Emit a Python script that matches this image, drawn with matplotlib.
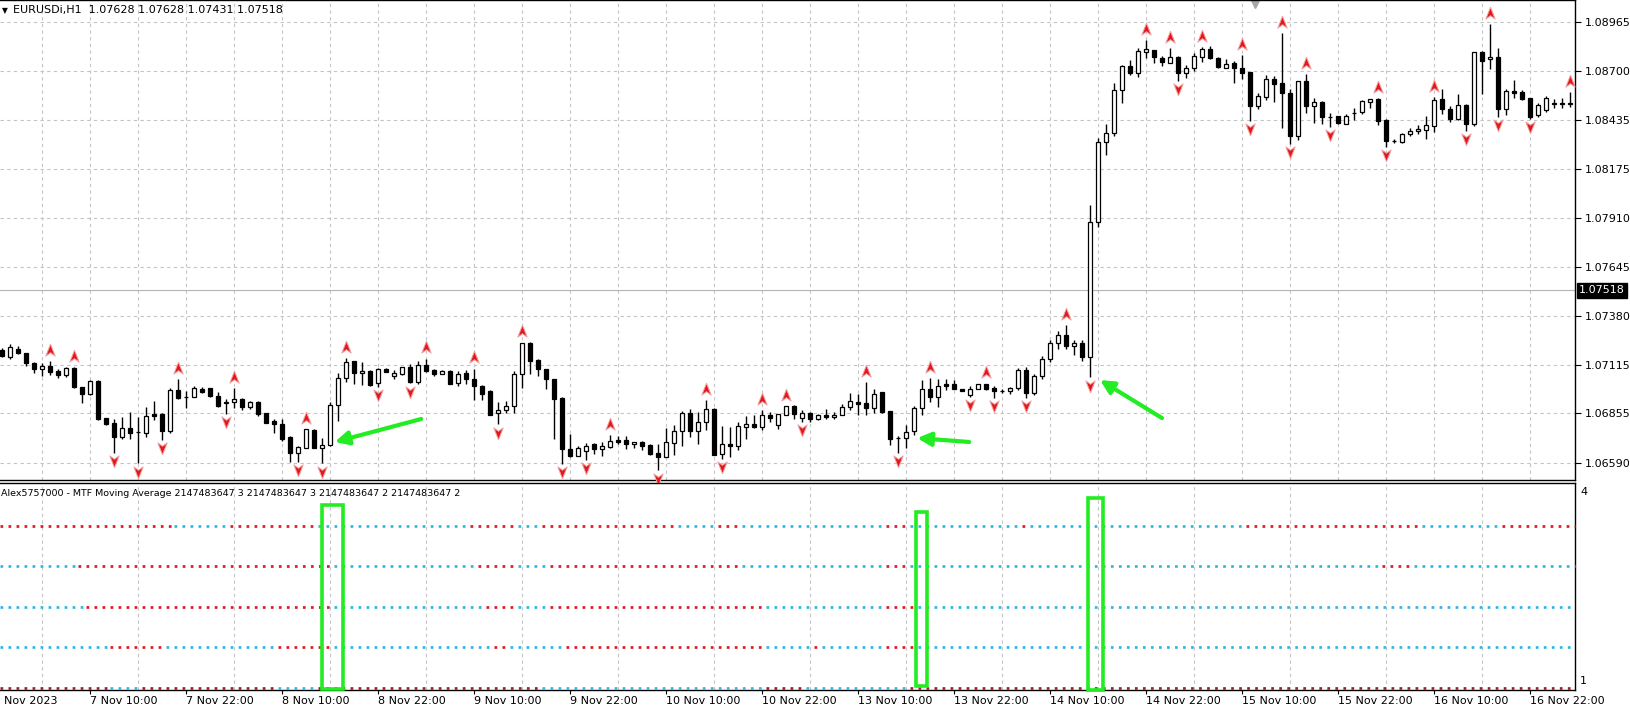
import matplotlib
matplotlib.use("Agg")
import matplotlib.pyplot as plt
import numpy as np
from matplotlib.path import Path
from matplotlib.patches import Rectangle
from matplotlib.transforms import offset_copy, blended_transform_factory

# ---- EURUSD H1 bars (6 Nov 23:00 -> 17 Nov) ----
opens = [
    1.07197, 1.07157, 1.07201, 1.07179, 1.07129, 1.07096, 1.07111, 1.07084, 1.07060, 1.07098,
    1.06995, 1.06959, 1.07030, 1.06828, 1.06801, 1.06729, 1.06779, 1.06753, 1.06752, 1.06850,
    1.06851, 1.06761, 1.06981, 1.06941, 1.06945, 1.06986, 1.06990, 1.06949, 1.06909, 1.06914,
    1.06932, 1.06891, 1.06918, 1.06855, 1.06814, 1.06797, 1.06729, 1.06639, 1.06670, 1.06765,
    1.06671, 1.06684, 1.06900, 1.07044, 1.07138, 1.07071, 1.07084, 1.07017, 1.07093, 1.07058,
    1.07066, 1.07107, 1.07025, 1.07115, 1.07088, 1.07070, 1.07084, 1.07021, 1.07074, 1.07043,
    1.07002, 1.06976, 1.06859, 1.06872, 1.06897, 1.07070, 1.07232, 1.07142, 1.07092, 1.07040,
    1.06939, 1.06665, 1.06627, 1.06652, 1.06692, 1.06663, 1.06674, 1.06714, 1.06714, 1.06692,
    1.06703, 1.06683, 1.06643, 1.06620, 1.06696, 1.06760, 1.06859, 1.06760, 1.06809, 1.06881,
    1.06634, 1.06688, 1.06681, 1.06782, 1.06800, 1.06782, 1.06845, 1.06791, 1.06849, 1.06897,
    1.06832, 1.06859, 1.06827, 1.06849, 1.06836, 1.06849, 1.06890, 1.06915, 1.06912, 1.06886,
    1.06969, 1.06867, 1.06724, 1.06723, 1.06760, 1.06886, 1.06984, 1.06944, 1.07011, 1.07011,
    1.06984, 1.06953, 1.06989, 1.07011, 1.06993, 1.06976, 1.06976, 1.06990, 1.07090, 1.06965,
    1.07055, 1.07150, 1.07234, 1.07280, 1.07220, 1.07234, 1.07160, 1.07885, 1.08319, 1.08368,
    1.08598, 1.08728, 1.08692, 1.08805, 1.08814, 1.08769, 1.08746, 1.08778, 1.08693, 1.08715,
    1.08778, 1.08818, 1.08769, 1.08720, 1.08746, 1.08720, 1.08697, 1.08512, 1.08562, 1.08657,
    1.08634, 1.08580, 1.08350, 1.08647, 1.08515, 1.08535, 1.08454, 1.08458, 1.08418, 1.08474,
    1.08481, 1.08535, 1.08549, 1.08436, 1.08324, 1.08319, 1.08364, 1.08377, 1.08382, 1.08404,
    1.08549, 1.08499, 1.08441, 1.08517, 1.08418, 1.08805, 1.08764, 1.08774, 1.08494, 1.08595,
    1.08587, 1.08553, 1.08463, 1.08490, 1.08525, 1.08528, 1.08525]

highs = [
    1.07206, 1.07229, 1.07219, 1.07183, 1.07132, 1.07125, 1.07136, 1.07095, 1.07107, 1.07107,
    1.06999, 1.07035, 1.07035, 1.06832, 1.06823, 1.06837, 1.06860, 1.06837, 1.06891, 1.06922,
    1.06857, 1.06990, 1.07039, 1.06976, 1.07003, 1.06995, 1.06992, 1.06972, 1.06932, 1.06990,
    1.06940, 1.06922, 1.06922, 1.06857, 1.06824, 1.06823, 1.06733, 1.06679, 1.06772, 1.06769,
    1.06720, 1.06918, 1.07071, 1.07152, 1.07139, 1.07134, 1.07089, 1.07098, 1.07102, 1.07089,
    1.07107, 1.07120, 1.07137, 1.07151, 1.07092, 1.07088, 1.07088, 1.07084, 1.07088, 1.07097,
    1.07007, 1.06980, 1.06917, 1.06922, 1.07083, 1.07237, 1.07241, 1.07146, 1.07097, 1.07043,
    1.06944, 1.06746, 1.06679, 1.06696, 1.06696, 1.06701, 1.06737, 1.06732, 1.06732, 1.06703,
    1.06706, 1.06688, 1.06688, 1.06778, 1.06791, 1.06868, 1.06877, 1.06863, 1.06926, 1.06886,
    1.06786, 1.06782, 1.06809, 1.06840, 1.06849, 1.06872, 1.06863, 1.06854, 1.06897, 1.06901,
    1.06876, 1.06863, 1.06854, 1.06881, 1.06863, 1.06908, 1.06967, 1.06962, 1.07025, 1.06989,
    1.06969, 1.06867, 1.06732, 1.06795, 1.06894, 1.07034, 1.07048, 1.07043, 1.07043, 1.07034,
    1.06984, 1.07002, 1.07012, 1.07016, 1.07002, 1.06989, 1.06995, 1.07100, 1.07105, 1.07070,
    1.07165, 1.07250, 1.07300, 1.07330, 1.07250, 1.07250, 1.07980, 1.08340, 1.08418, 1.08638,
    1.08733, 1.08760, 1.08823, 1.08868, 1.08814, 1.08782, 1.08827, 1.08782, 1.08733, 1.08796,
    1.08832, 1.08836, 1.08778, 1.08764, 1.08756, 1.08787, 1.08697, 1.08580, 1.08679, 1.08674,
    1.08904, 1.08602, 1.08647, 1.08684, 1.08558, 1.08539, 1.08476, 1.08461, 1.08467, 1.08504,
    1.08544, 1.08551, 1.08553, 1.08440, 1.08332, 1.08369, 1.08395, 1.08409, 1.08458, 1.08562,
    1.08602, 1.08512, 1.08576, 1.08522, 1.08805, 1.08810, 1.08954, 1.08823, 1.08602, 1.08652,
    1.08598, 1.08557, 1.08530, 1.08565, 1.08550, 1.08555, 1.08590]

lows = [
    1.07161, 1.07147, 1.07174, 1.07111, 1.07071, 1.07057, 1.07062, 1.07044, 1.07049, 1.06990,
    1.06909, 1.06952, 1.06819, 1.06792, 1.06643, 1.06715, 1.06715, 1.06585, 1.06729, 1.06819,
    1.06711, 1.06751, 1.06931, 1.06882, 1.06941, 1.06967, 1.06945, 1.06887, 1.06851, 1.06882,
    1.06873, 1.06877, 1.06842, 1.06801, 1.06747, 1.06707, 1.06594, 1.06594, 1.06666, 1.06666,
    1.06585, 1.06680, 1.06815, 1.07026, 1.07013, 1.07008, 1.07004, 1.06999, 1.07076, 1.07039,
    1.07062, 1.07017, 1.07016, 1.07079, 1.07059, 1.07066, 1.07012, 1.07003, 1.07016, 1.06926,
    1.06926, 1.06845, 1.06796, 1.06858, 1.06858, 1.06994, 1.07070, 1.07056, 1.06989, 1.06719,
    1.06584, 1.06620, 1.06624, 1.06606, 1.06638, 1.06625, 1.06670, 1.06688, 1.06665, 1.06670,
    1.06656, 1.06629, 1.06548, 1.06620, 1.06629, 1.06679, 1.06728, 1.06692, 1.06764, 1.06629,
    1.06611, 1.06620, 1.06656, 1.06719, 1.06777, 1.06764, 1.06809, 1.06773, 1.06845, 1.06823,
    1.06809, 1.06809, 1.06818, 1.06827, 1.06827, 1.06845, 1.06876, 1.06845, 1.06845, 1.06859,
    1.06859, 1.06687, 1.06642, 1.06670, 1.06737, 1.06845, 1.06917, 1.06890, 1.06980, 1.06984,
    1.06976, 1.06944, 1.06984, 1.06980, 1.06940, 1.06966, 1.06962, 1.06980, 1.06940, 1.06955,
    1.07040, 1.07130, 1.07200, 1.07200, 1.07170, 1.07140, 1.07050, 1.07860, 1.08250, 1.08350,
    1.08530, 1.08679, 1.08670, 1.08769, 1.08746, 1.08728, 1.08742, 1.08648, 1.08665, 1.08702,
    1.08751, 1.08764, 1.08715, 1.08715, 1.08638, 1.08656, 1.08432, 1.08499, 1.08544, 1.08535,
    1.08395, 1.08308, 1.08328, 1.08476, 1.08422, 1.08418, 1.08400, 1.08418, 1.08414, 1.08436,
    1.08472, 1.08504, 1.08409, 1.08292, 1.08314, 1.08314, 1.08350, 1.08364, 1.08332, 1.08373,
    1.08472, 1.08427, 1.08436, 1.08378, 1.08404, 1.08575, 1.08710, 1.08454, 1.08463, 1.08553,
    1.08544, 1.08445, 1.08455, 1.08480, 1.08500, 1.08500, 1.08505]

closes = [
    1.07166, 1.07215, 1.07179, 1.07129, 1.07096, 1.07111, 1.07076, 1.07060, 1.07098, 1.06999,
    1.06959, 1.07028, 1.06826, 1.06797, 1.06729, 1.06779, 1.06752, 1.06753, 1.06842, 1.06841,
    1.06761, 1.06981, 1.06940, 1.06941, 1.06990, 1.06972, 1.06949, 1.06895, 1.06918, 1.06932,
    1.06891, 1.06918, 1.06851, 1.06806, 1.06796, 1.06715, 1.06643, 1.06673, 1.06769, 1.06670,
    1.06684, 1.06900, 1.07044, 1.07134, 1.07071, 1.07084, 1.07008, 1.07094, 1.07080, 1.07071,
    1.07103, 1.07026, 1.07115, 1.07084, 1.07070, 1.07084, 1.07016, 1.07070, 1.07043, 1.07002,
    1.06962, 1.06849, 1.06876, 1.06897, 1.07070, 1.07232, 1.07138, 1.07092, 1.07038, 1.06935,
    1.06665, 1.06624, 1.06670, 1.06678, 1.06663, 1.06678, 1.06706, 1.06701, 1.06688, 1.06703,
    1.06678, 1.06634, 1.06620, 1.06701, 1.06760, 1.06859, 1.06760, 1.06809, 1.06881, 1.06629,
    1.06688, 1.06681, 1.06786, 1.06800, 1.06782, 1.06845, 1.06831, 1.06850, 1.06897, 1.06854,
    1.06859, 1.06827, 1.06849, 1.06836, 1.06849, 1.06890, 1.06921, 1.06908, 1.06886, 1.06962,
    1.06863, 1.06719, 1.06724, 1.06755, 1.06886, 1.06984, 1.06944, 1.07003, 1.07002, 1.06984,
    1.06976, 1.06989, 1.07011, 1.06989, 1.06976, 1.06976, 1.06990, 1.07090, 1.06965, 1.07055,
    1.07150, 1.07234, 1.07280, 1.07220, 1.07234, 1.07160, 1.07885, 1.08320, 1.08369, 1.08598,
    1.08728, 1.08692, 1.08809, 1.08819, 1.08778, 1.08751, 1.08774, 1.08692, 1.08715, 1.08782,
    1.08818, 1.08769, 1.08724, 1.08737, 1.08720, 1.08692, 1.08512, 1.08566, 1.08656, 1.08629,
    1.08584, 1.08350, 1.08647, 1.08512, 1.08533, 1.08454, 1.08454, 1.08422, 1.08461, 1.08476,
    1.08539, 1.08548, 1.08432, 1.08324, 1.08326, 1.08364, 1.08377, 1.08387, 1.08409, 1.08544,
    1.08495, 1.08445, 1.08517, 1.08418, 1.08805, 1.08756, 1.08774, 1.08494, 1.08593, 1.08584,
    1.08549, 1.08454, 1.08517, 1.08555, 1.08528, 1.08525, 1.08530]

# fractal arrows (bar index)
up_fractals = [6, 9, 22, 29, 38, 43, 53, 59, 65, 76, 88, 95, 98, 108, 116, 123, 133,
               143, 146, 150, 155, 160, 163, 172, 179, 186, 196]
down_fractals = [14, 17, 20, 28, 37, 40, 47, 51, 62, 70, 73, 82, 90, 100, 112, 121, 124,
                 128, 136, 147, 156, 161, 166, 173, 183, 187, 191]

price_ticks = [1.06590, 1.06855, 1.07115, 1.07380, 1.07645, 1.07910, 1.08175, 1.08435, 1.08700, 1.08965]
current_price = 1.07518
header = "EURUSDi,H1  1.07628 1.07628 1.07431 1.07518"
ind_title = "Alex5757000 - MTF Moving Average 2147483647 3 2147483647 3 2147483647 2 2147483647 2"

# first label is cut by the window edge in the terminal
time_labels = ["Nov 2023", "7 Nov 10:00", "7 Nov 22:00", "8 Nov 10:00", "8 Nov 22:00",
               "9 Nov 10:00", "9 Nov 22:00", "10 Nov 10:00", "10 Nov 22:00", "13 Nov 10:00",
               "13 Nov 22:00", "14 Nov 10:00", "14 Nov 22:00", "15 Nov 10:00", "15 Nov 22:00",
               "16 Nov 10:00", "16 Nov 22:00"]
time_label_bars = [0.25, 11, 23, 35, 47, 59, 71, 83, 95, 107, 119, 131, 143, 155, 167, 179, 191]

# MTF MA state per line: (start bar, 'u' up / 'd' down)
ma_levels = [4, 3, 2, 1, 0]
ma_line1 = [(0, 'd'), (22, 'u'), (29, 'd'), (40, 'u'), (59, 'd'), (65, 'u'), (68, 'd'), (85, 'u'),
            (90, 'd'), (93, 'u'), (111, 'd'), (114, 'u'), (128, 'd'), (129, 'u'), (156, 'd'),
            (178, 'u'), (188, 'd')]
ma_line2 = [(0, 'u'), (10, 'd'), (42, 'u'), (60, 'd'), (65, 'u'), (69, 'd'), (93, 'u'), (111, 'd'),
            (114, 'u'), (173, 'd'), (177, 'u')]
ma_line3 = [(0, 'u'), (11, 'd'), (42, 'u'), (61, 'd'), (65, 'u'), (69, 'd'), (96, 'u'), (111, 'd'),
            (115, 'u')]
ma_line4 = [(0, 'u'), (14, 'd'), (21, 'u'), (35, 'd'), (42, 'u'), (62, 'd'), (64, 'u'), (71, 'd'),
            (96, 'u'), (102, 'd'), (103, 'u'), (111, 'd'), (115, 'u')]
ma_line5 = [(0, 'd'), (14, 'u'), (18, 'd'), (35, 'u'), (40, 'd'), (68, 'u'), (96, 'd'), (101, 'u'),
            (114, 'd')]
ma_lines = [ma_line1, ma_line2, ma_line3, ma_line4, ma_line5]

# hand-drawn green marks
box_bars = [(40.0, 42.6), (114.25, 115.6), (135.75, 137.6)]
box_levels = [(4.51, -0.02), (4.34, 0.04), (4.68, -0.05)]
arrow_tails = [(52.4, 1.06825), (120.9, 1.06701), (145.0, 1.06830)]
arrow_heads = [(41.6, 1.06701), (114.4, 1.06722), (137.25, 1.07035)]

W, H = 1630, 712
RED = '#dc1a22'
CYAN = '#2db7e6'
DARKRED = '#a01b25'
LIME = '#22ec22'
GRID = '#c4c4c4'

fig = plt.figure(figsize=(W / 100, H / 100), dpi=100)
fig.patch.set_facecolor('white')
ax1 = fig.add_axes([0, 1 - 480 / H, 1575 / W, 480 / H])
ax2 = fig.add_axes([0, 1 - 690 / H, 1575 / W, 207 / H])

n = len(closes)
x = np.arange(n)
o = np.array(opens)
c = np.array(closes)
xlim = (-0.25, 196.625)

# ---- main price panel ----
ax1.set_xlim(*xlim)
ax1.set_ylim(1.06496, 1.09084)
ax1.vlines(x, lows, highs, color='black', lw=1.0, zorder=2)
bottom = np.minimum(o, c)
height = np.maximum(np.abs(c - o), 0.000006)
faces = ['white' if cc >= oo else 'black' for oo, cc in zip(o, c)]
ax1.bar(x, height, bottom=bottom, width=0.5, color=faces, edgecolor='black', linewidth=0.9, zorder=3)

up_path = Path([(0, 1), (0.75, -0.9), (0, -0.35), (-0.75, -0.9), (0, 1)],
               [Path.MOVETO, Path.LINETO, Path.LINETO, Path.LINETO, Path.CLOSEPOLY])
dn_path = Path([(0, -1), (0.75, 0.9), (0, 0.35), (-0.75, 0.9), (0, -1)],
               [Path.MOVETO, Path.LINETO, Path.LINETO, Path.LINETO, Path.CLOSEPOLY])
up_tr = offset_copy(ax1.transData, fig=fig, y=8, units='points')
dn_tr = offset_copy(ax1.transData, fig=fig, y=-6, units='points')
ax1.plot(up_fractals, [highs[i] for i in up_fractals], ls='none', marker=up_path, ms=9,
         mfc='#e3171c', mec='#f3a0a0', mew=0.7, transform=up_tr, zorder=4, clip_on=False)
ax1.plot(down_fractals, [lows[i] for i in down_fractals], ls='none', marker=dn_path, ms=9,
         mfc='#e3171c', mec='#f3a0a0', mew=0.7, transform=dn_tr, zorder=4, clip_on=False)

ax1.axhline(current_price, color='#b4b4b4', lw=0.8, zorder=1)

ax1.set_xticks(np.arange(5, n, 6))
ax1.tick_params(axis='x', length=0, labelbottom=False)
ax1.yaxis.tick_right()
ax1.set_yticks(price_ticks)
ax1.set_yticklabels(['%.5f' % p for p in price_ticks])
ax1.tick_params(axis='y', length=4, width=0.8, pad=3, labelsize=8, colors='black')
ax1.grid(True, color=GRID, ls=(0, (3, 3)), lw=0.8)
ax1.set_axisbelow(True)
for s in ['top', 'right', 'bottom']:
    ax1.spines[s].set_color('black')
    ax1.spines[s].set_linewidth(1.0)
ax1.spines['left'].set_visible(False)

bt = blended_transform_factory(ax1.transAxes, ax1.transData)
ax1.text(1.0 + 4 / 1575, current_price, '%.5f' % current_price, transform=bt, color='white',
         fontsize=8, va='center', ha='left',
         bbox=dict(boxstyle='square,pad=0.2', fc='black', ec='black'))

for (tx, ty), (hx, hy) in zip(arrow_tails, arrow_heads):
    ax1.annotate('', xy=(hx, hy), xytext=(tx, ty),
                 arrowprops=dict(arrowstyle='-|>', color=LIME, lw=3, mutation_scale=20,
                                 shrinkA=0, shrinkB=0), zorder=6)

top_tr = blended_transform_factory(ax1.transData, ax1.transAxes)
ax1.plot([156.6], [0.994], marker='v', ms=7, color='#a8a8a8', transform=top_tr, clip_on=False)

fig.text(2 / W, 1 - 10.5 / H, '\u25bc', fontsize=5.5, va='center', ha='left')
fig.text(13 / W, 1 - 10.5 / H, header, fontsize=8, va='center', ha='left')

# ---- indicator panel ----
ax2.set_xlim(*xlim)
ax2.set_ylim(-0.05, 5.05)
for level, runs in zip(ma_levels, ma_lines):
    for j, (start, state) in enumerate(runs):
        end = runs[j + 1][0] - 0.5 if j + 1 < len(runs) else xlim[1]
        if state == 'u':
            col = CYAN
        else:
            col = DARKRED if level == 0 else RED
        ax2.plot([max(start - 0.5, xlim[0]), end], [level, level], color=col, lw=1.95,
                 ls=(0, (1, 1.96)), dash_capstyle='butt', clip_on=False, zorder=3)

for (b0, b1), (v0, v1) in zip(box_bars, box_levels):
    ax2.add_patch(Rectangle((b0, v1), b1 - b0, v0 - v1, fill=False, ec=LIME, lw=2.6,
                            clip_on=False, zorder=5))

ax2.set_xticks(time_label_bars[1:])
ax2.set_xticks(np.arange(5, n, 6), minor=True)
ax2.tick_params(axis='x', which='major', length=3, width=0.8, labelbottom=False)
ax2.tick_params(axis='x', which='minor', length=0)
ax2.set_yticks([])
ax2.grid(True, which='minor', axis='x', color=GRID, ls=(0, (3, 3)), lw=0.8)
ax2.set_axisbelow(True)
for s in ['top', 'right', 'bottom']:
    ax2.spines[s].set_color('black')
    ax2.spines[s].set_linewidth(1.0)
ax2.spines['left'].set_visible(False)

lt = blended_transform_factory(ax2.transData, ax2.transAxes)
for lab, b in zip(time_labels, time_label_bars):
    ax2.text(b, -10.6 / 207, lab, transform=lt, fontsize=8, ha='left', va='center', clip_on=False)

fig.text(1 / W, 1 - 494 / H, ind_title, fontsize=6.8, va='center', ha='left')
fig.text(1580 / W, 1 - 492 / H, '4', fontsize=8, va='center', ha='left')
fig.text(1580 / W, 1 - 681 / H, '1', fontsize=8, va='center', ha='left')

fig.savefig('out.png', dpi=100, facecolor='white')
